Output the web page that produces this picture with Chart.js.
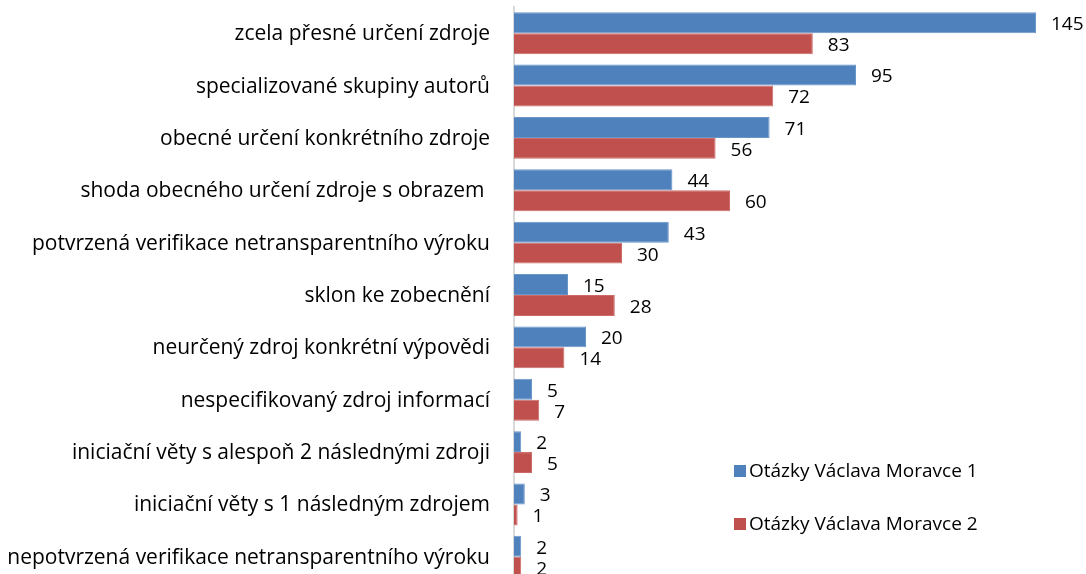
<!DOCTYPE html>
<html>
<head>
<meta charset="utf-8">
<script src="https://cdn.jsdelivr.net/npm/chart.js@4"></script>
<style>
  html, body { margin: 0; padding: 0; background: #fff; overflow: hidden; }
  #wrap { position: relative; width: 1086px; height: 592px; }
</style>
</head>
<body>
<div id="wrap"><canvas id="c"></canvas></div>
<script>
const categories = [
  "zcela přesné určení zdroje",
  "specializované skupiny autorů",
  "obecné určení konkrétního zdroje",
  "shoda obecného určení zdroje s obrazem ",
  "potvrzená verifikace netransparentního výroku",
  "sklon ke zobecnění",
  "neurčený zdroj konkrétní výpovědi",
  "nespecifikovaný zdroj informací",
  "iniciační věty s alespoň 2 následnými zdroji",
  "iniciační věty s 1 následným zdrojem",
  "nepotvrzená verifikace netransparentního výroku"
];
const seriesNames = ["Otázky Václava Moravce 1", "Otázky Václava Moravce 2"];
const series1 = [145, 95, 71, 44, 43, 15, 20, 5, 2, 3, 2];
const series2 = [83, 72, 56, 60, 30, 28, 14, 7, 5, 1, 2];
const colors = ["#4F81BD", "#C0504D"];

const FONT = "'Open Sans', sans-serif";
const FSIZE = 19;
const CAT_FSIZE = 21;

const categoryLabels = {
  id: 'categoryLabels',
  afterDraw(chart) {
    const ctx = chart.ctx;
    const ys = chart.scales.y;
    ctx.save();
    ctx.font = CAT_FSIZE + "px " + FONT;
    ctx.fillStyle = "#000";
    ctx.textAlign = "right";
    ctx.textBaseline = "middle";
    chart.data.labels.forEach((lab, i) => {
      ctx.fillText(lab, ys.right - 24, ys.getPixelForValue(i) + 1);
    });
    ctx.restore();
  }
};

const valueLabels = {
  id: 'valueLabels',
  afterDatasetsDraw(chart) {
    const ctx = chart.ctx;
    ctx.save();
    ctx.font = FSIZE + "px " + FONT;
    ctx.fillStyle = "#000";
    ctx.textAlign = "left";
    ctx.textBaseline = "middle";
    chart.data.datasets.forEach((ds, i) => {
      const meta = chart.getDatasetMeta(i);
      meta.data.forEach((bar, j) => {
        ctx.fillText(String(ds.data[j]), bar.x + 15, bar.y + 2);
      });
    });
    ctx.restore();
  }
};

const sideLegend = {
  id: 'sideLegend',
  afterDraw(chart) {
    const ctx = chart.ctx;
    ctx.save();
    ctx.font = FSIZE + "px " + FONT;
    ctx.textAlign = "left";
    ctx.textBaseline = "middle";
    const x0 = 734, ys = [471, 524];
    chart.data.datasets.forEach((ds, i) => {
      ctx.fillStyle = ds.backgroundColor;
      ctx.fillRect(x0, ys[i] - 6, 12, 12);
      ctx.fillStyle = "#000";
      ctx.fillText(ds.label, x0 + 15, ys[i] + 1);
    });
    ctx.restore();
  }
};

new Chart(document.getElementById('c'), {
  type: 'bar',
  data: {
    labels: categories,
    datasets: [
      { label: seriesNames[0], data: series1, backgroundColor: colors[0], borderColor: "#6A95C9", borderWidth: 1, borderSkipped: 'left' },
      { label: seriesNames[1], data: series2, backgroundColor: colors[1], borderColor: "#CC6B68", borderWidth: 1, borderSkipped: 'left' }
    ]
  },
  options: {
    indexAxis: 'y',
    responsive: true,
    maintainAspectRatio: false,
    animation: false,
    layout: { padding: { top: 7, bottom: 9, left: 0, right: 32 } },
    datasets: { bar: { categoryPercentage: 0.8, barPercentage: 1.0 } },
    plugins: { legend: { display: false }, tooltip: { enabled: false } },
    scales: {
      x: { display: false, min: 0, max: 150 },
      y: {
        grid: { display: false, drawTicks: false },
        border: { display: true, color: "#D9D9D9", width: 2 },
        ticks: { display: false },
        afterFit(scale) { scale.width = 514; }
      }
    }
  },
  plugins: [categoryLabels, valueLabels, sideLegend]
});
</script>
</body>
</html>
